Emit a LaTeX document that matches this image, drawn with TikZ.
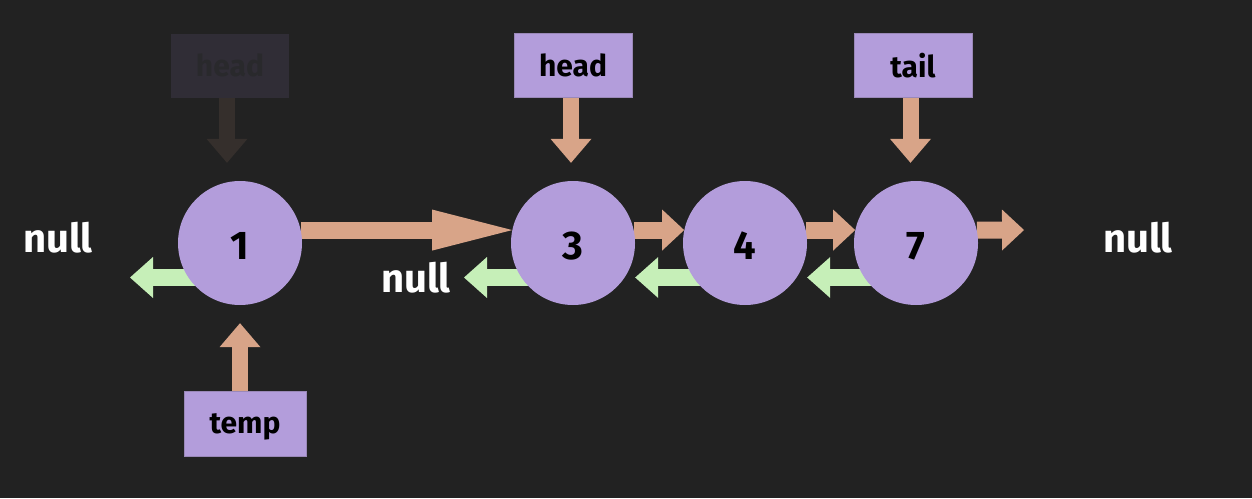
\documentclass[tikz,border=0pt]{standalone}
\usepackage{fontspec}
\setmainfont{Fira Sans}
\usetikzlibrary{arrows.meta}
\definecolor{bg}{HTML}{222222}
\definecolor{nodep}{HTML}{B39DDB}
\definecolor{ptrc}{HTML}{D8A488}
\definecolor{prevc}{HTML}{C6EFB8}
\definecolor{fadebox}{HTML}{302D36}
\definecolor{fadearrow}{HTML}{352F2C}
\definecolor{fadetext}{HTML}{29292C}
\definecolor{boxline}{HTML}{9A88B8}
\pgfdeclarelayer{bgl}
\pgfdeclarelayer{arr}
\pgfsetlayers{bgl,arr,main}
\newcommand{\lowered}[1]{\raisebox{-3pt}[\height][\depth]{#1}}
\begin{document}
\begin{tikzpicture}[x=1pt,y=-1pt,
  elem/.style={circle, fill=nodep, minimum size=124pt, inner sep=0pt,
    font=\fontsize{40}{48}\selectfont\bfseries, text=black},
  varbox/.style={rectangle, fill=nodep, draw=boxline, line width=0.5pt,
    minimum width=118pt, minimum height=64pt, inner sep=0pt,
    font=\fontsize{30}{36}\selectfont\bfseries, text=black},
  fadedbox/.style={varbox, fill=fadebox, draw=none, text=fadetext},
  nulltext/.style={text=white, inner sep=0pt, font=\fontsize{40}{48}\selectfont\bfseries},
  ptr/.style={draw=ptrc, line width=16pt,
    -{Triangle[width=41pt,length=24pt,line width=0pt]}},
  fadedptr/.style={ptr, draw=fadearrow},
  nextp/.style={draw=ptrc, line width=17pt,
    -{Triangle[width=41pt,length=22pt,line width=0pt]}},
  bignext/.style={draw=ptrc, line width=17pt,
    -{Triangle[width=41pt,length=80pt,line width=0pt]}},
  prevp/.style={draw=prevc, line width=17pt,
    -{Triangle[width=41pt,length=23pt,line width=0pt]}}
]
\begin{pgfonlayer}{bgl}
  \fill[bg] (0,0) rectangle (1252,498);
\end{pgfonlayer}
\useasboundingbox (0,0) rectangle (1252,498);

% list elements
\node[elem] (n1) at (240,243) {\lowered{1}};
\node[elem] (n3) at (573,243) {\lowered{3}};
\node[elem] (n4) at (745,243) {\lowered{4}};
\node[elem] (n7) at (916,243) {\lowered{7}};

% variable boxes
\node[fadedbox] (oh) at (230,65.5) {head};
\node[varbox] (hb) at (573,65.5) {head};
\node[varbox] (tb) at (913,65.5) {tail};
\node[varbox, minimum width=122pt, minimum height=65pt] (tmp) at (245,423.5) {\lowered{temp}};

% null labels
\node[nulltext] (nl) at (58,238) {null};
\node[nulltext] (nm) at (416,278) {null};
\node[nulltext] (nr) at (1138,238) {null};

\coordinate (p1) at (130,277.5);
\coordinate (p3) at (464,277.5);
\coordinate (q7) at (1024,230);

\begin{pgfonlayer}{arr}
  % next pointers
  \draw[bignext] (n1.12) -- (n3.168);
  \draw[nextp] (n3.12) -- (n4.168);
  \draw[nextp] (n4.12) -- (n7.168);
  \draw[nextp] (n7.12) -- (q7);
  % prev pointers
  \draw[prevp] ([yshift=-34.5pt]n1.center) -- (p1);
  \draw[prevp] ([yshift=-34.5pt]n3.center) -- (p3);
  \draw[prevp] ([yshift=-34.5pt]n4.center) -- ([yshift=-34.5pt]n3.east);
  \draw[prevp] ([yshift=-34.5pt]n7.center) -- ([yshift=-34.5pt]n4.east);
\end{pgfonlayer}

% variable pointers
\draw[fadedptr] ([xshift=-3pt]oh.south) -- ([xshift=-3pt,yshift=18pt]oh.south |- n1.north);
\draw[ptr] ([xshift=-2pt]hb.south) -- ([xshift=-2pt,yshift=18pt]hb.south |- n3.north);
\draw[ptr] ([xshift=-2.5pt]tb.south) -- ([xshift=-2.5pt,yshift=18pt]tb.south |- n7.north);
\draw[ptr] (n1.south |- tmp.north) -- ([yshift=-18pt]n1.south);
\end{tikzpicture}
\end{document}
